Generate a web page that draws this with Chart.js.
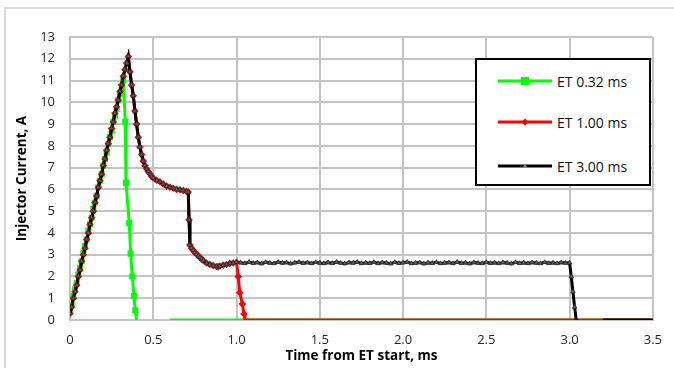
<!DOCTYPE html>
<html>
<head>
<meta charset="utf-8">
<script src="https://cdn.jsdelivr.net/npm/chart.js@4"></script>
<style>
  body { margin: 0; background: #fff; }
  #wrap { position: relative; width: 674px; height: 368px; overflow: hidden; }
  #frame { position: absolute; left: 4px; top: 7px; width: 720px; height: 420px;
           border-left: 2px solid #d9d9d9; border-top: 2px solid #d9d9d9; }
  #myChart { position: absolute; left: 0; top: 0; }
  #legend { position: absolute; left: 475px; top: 58px; width: 172px; height: 124px;
            border: 2px solid #000; background: #fff;
            font-family: 'Open Sans', sans-serif; font-size: 14px; color: #111; }
  .item { position: absolute; left: 21px; height: 20px; display: flex; align-items: center; white-space: nowrap; }
  .item svg { margin-right: 4px; }
</style>
</head>
<body>
<div id="wrap">
  <div id="frame"></div>
  <canvas id="myChart" width="674" height="368"></canvas>
  <div id="legend">
    <div class="item" style="top:11px">
      <svg width="55" height="20"><line x1="0" y1="10" x2="54" y2="10" stroke="#00ff00" stroke-width="3"/><rect x="23" y="6" width="8" height="8" fill="#00ff00"/></svg>
      <span>ET 0.32 ms</span>
    </div>
    <div class="item" style="top:52px">
      <svg width="55" height="20"><line x1="0" y1="10" x2="54" y2="10" stroke="#ff0000" stroke-width="3"/><polygon points="27,6.5 30.5,10 27,13.5 23.5,10" fill="#ff0000"/></svg>
      <span>ET 1.00 ms</span>
    </div>
    <div class="item" style="top:96px">
      <svg width="55" height="20"><line x1="0" y1="10" x2="54" y2="10" stroke="#000" stroke-width="3"/><polygon points="27,7.5 29.5,12 24.5,12" fill="#888"/></svg>
      <span>ET 3.00 ms</span>
    </div>
  </div>
</div>
<script>
// ramp shared by the 1.00 ms and 3.00 ms shots
const tRamp = [0, 0.01, 0.02, 0.03, 0.04, 0.05, 0.06, 0.07, 0.08, 0.09, 0.10, 0.11, 0.12, 0.13, 0.14, 0.15, 0.16, 0.17,
  0.18, 0.19, 0.20, 0.21, 0.22, 0.23, 0.24, 0.25, 0.26, 0.27, 0.28, 0.29, 0.30, 0.31, 0.32, 0.33, 0.34, 0.35];
const iRamp = [0.3, 0.6, 1.0, 1.3, 1.6, 2.0, 2.3, 2.7, 3.0, 3.3, 3.7, 4.0, 4.4, 4.7, 5.0, 5.4, 5.7, 6.1,
  6.4, 6.7, 7.1, 7.4, 7.8, 8.1, 8.4, 8.8, 9.1, 9.5, 9.8, 10.1, 10.5, 10.8, 11.2, 11.5, 11.8, 12.1];

// decay, hold at ~6 A, drop to ~2.5 A
const tDecay = [0.36, 0.37, 0.38, 0.39, 0.40, 0.41, 0.42, 0.43, 0.44, 0.45, 0.46, 0.47, 0.48, 0.49, 0.50,
  0.52, 0.54, 0.56, 0.58, 0.60, 0.62, 0.64, 0.66, 0.68, 0.70, 0.71, 0.715, 0.72,
  0.73, 0.74, 0.75, 0.76, 0.77, 0.78, 0.79, 0.80, 0.82, 0.84, 0.86, 0.88, 0.89, 0.90,
  0.92, 0.94, 0.96, 0.98, 1.00];
const iDecay = [11.4, 10.8, 10.3, 9.6, 9.0, 8.4, 7.95, 7.6, 7.3, 7.1, 6.95, 6.82, 6.72, 6.6, 6.52,
  6.42, 6.35, 6.25, 6.15, 6.1, 6.05, 6.0, 5.98, 5.95, 5.9, 5.88, 4.6, 3.45,
  3.3, 3.2, 3.1, 3.02, 2.95, 2.88, 2.8, 2.73, 2.62, 2.55, 2.5, 2.46, 2.45, 2.48,
  2.52, 2.55, 2.6, 2.62, 2.65];

// ET 1.00 ms switch-off
const tRedOff = [1.01, 1.02, 1.035, 1.045, 1.05, 3.5];
const iRedOff = [2.0, 1.25, 0.73, 0.28, 0, 0];

// ET 3.00 ms hold plateau
const tPlat = [1.025, 1.05, 1.075, 1.1, 1.125, 1.15, 1.175, 1.2, 1.225, 1.25, 1.275, 1.3, 1.325, 1.35, 1.375, 1.4,
  1.425, 1.45, 1.475, 1.5, 1.525, 1.55, 1.575, 1.6, 1.625, 1.65, 1.675, 1.7, 1.725, 1.75, 1.775, 1.8,
  1.825, 1.85, 1.875, 1.9, 1.925, 1.95, 1.975, 2.0, 2.025, 2.05, 2.075, 2.1, 2.125, 2.15, 2.175, 2.2,
  2.225, 2.25, 2.275, 2.3, 2.325, 2.35, 2.375, 2.4, 2.425, 2.45, 2.475, 2.5, 2.525, 2.55, 2.575, 2.6,
  2.625, 2.65, 2.675, 2.7, 2.725, 2.75, 2.775, 2.8, 2.825, 2.85, 2.875, 2.9, 2.925, 2.95, 2.975, 3.0];
const iPlat = [2.63, 2.6, 2.66, 2.61, 2.64, 2.59, 2.65, 2.62, 2.6, 2.66, 2.62, 2.64, 2.59, 2.63, 2.66, 2.61,
  2.64, 2.6, 2.65, 2.62, 2.6, 2.64, 2.61, 2.66, 2.62, 2.59, 2.64, 2.62, 2.66, 2.6, 2.63, 2.61,
  2.65, 2.6, 2.64, 2.62, 2.59, 2.65, 2.61, 2.63, 2.66, 2.6, 2.62, 2.64, 2.59, 2.63, 2.61, 2.65,
  2.6, 2.62, 2.64, 2.6, 2.66, 2.61, 2.63, 2.59, 2.64, 2.62, 2.6, 2.65, 2.61, 2.63, 2.6, 2.64,
  2.62, 2.59, 2.65, 2.61, 2.63, 2.6, 2.64, 2.62, 2.6, 2.65, 2.61, 2.63, 2.6, 2.64, 2.62, 2.63];
const tBlackOff = [3.01, 3.02, 3.03, 3.04, 3.1, 3.2, 3.5];
const iBlackOff = [2.0, 1.3, 0.6, 0, null, 0, 0];

// ET 0.32 ms
const tGreen = [0, 0.01, 0.02, 0.03, 0.04, 0.05, 0.06, 0.07, 0.08, 0.09, 0.10, 0.11, 0.12, 0.13, 0.14, 0.15, 0.16,
  0.17, 0.18, 0.19, 0.20, 0.21, 0.22, 0.23, 0.24, 0.25, 0.26, 0.27, 0.28, 0.29, 0.30, 0.31, 0.32,
  0.332, 0.336, 0.356, 0.364, 0.374, 0.384, 0.392, 0.40, 0.5, 0.6, 3.5];
const iGreen = [0.4, 0.7, 1.1, 1.4, 1.7, 2.1, 2.4, 2.7, 3.1, 3.4, 3.7, 4.1, 4.4, 4.7, 5.1, 5.4, 5.7,
  6.1, 6.4, 6.7, 7.1, 7.4, 7.7, 8.1, 8.4, 8.7, 9.1, 9.4, 9.7, 10.1, 10.4, 10.7, 11.0,
  9.1, 6.3, 4.45, 3.05, 2.0, 1.1, 0.45, 0, null, 0, 0];

const xTicks = [0, 0.5, 1, 1.5, 2, 2.5, 3, 3.5];

function pts(xs, ys) {
  return xs.map((x, i) => ({x: x, y: ys[i]}));
}

const redData = pts(tRamp, iRamp).concat(pts(tDecay, iDecay), pts(tRedOff, iRedOff));
const blackData = pts(tRamp, iRamp).concat(pts(tDecay, iDecay), pts(tPlat, iPlat), pts(tBlackOff, iBlackOff));
const greenData = pts(tGreen, iGreen);

// hide markers that sit on the zero line
const radius = r => ctx => (ctx.raw && ctx.raw.y === 0) ? 0 : r;

const tickFont = {family: 'Open Sans', size: 13};
const titleFont = {family: 'Open Sans', size: 13.5, weight: 'bold', lineHeight: 1};

const config = {
  type: 'line',
  data: {
    datasets: [
      {
        label: 'ET 3.00 ms',
        data: blackData,
        borderColor: '#000',
        backgroundColor: '#666',
        borderWidth: 3,
        pointStyle: 'triangle',
        pointRadius: radius(2.5),
        pointBorderColor: '#333',
        pointBorderWidth: 1,
      },
      {
        label: 'ET 1.00 ms',
        data: redData,
        borderColor: '#ff0000',
        backgroundColor: '#ff0000',
        borderWidth: 3,
        pointStyle: 'rectRot',
        pointRadius: radius(3.8),
        pointBorderWidth: 0,
      },
      {
        label: 'ET 0.32 ms',
        data: greenData,
        borderColor: '#00ff00',
        backgroundColor: '#00ff00',
        borderWidth: 3,
        pointStyle: 'rect',
        pointRadius: radius(4.3),
        pointBorderWidth: 0,
      },
    ]
  },
  options: {
    responsive: false,
    animation: false,
    devicePixelRatio: 1,
    layout: {padding: {left: 0, right: 21, top: 37, bottom: 0}},
    plugins: {legend: {display: false}, tooltip: {enabled: false}},
    elements: {line: {tension: 0}},
    scales: {
      x: {
        type: 'linear',
        min: 0,
        max: 3.5,
        afterFit: s => { s.height = 48; },
        afterBuildTicks: s => { s.ticks = xTicks.map(v => ({value: v})); },
        ticks: {font: tickFont, color: '#262626', padding: 12, maxRotation: 0},
        grid: {color: '#c4c4c4', lineWidth: 2, drawTicks: false},
        border: {color: '#c4c4c4', width: 2},
        title: {display: true, text: 'Time from ET start, ms', font: titleFont, color: '#000', padding: {top: 0, bottom: 5}},
      },
      y: {
        min: 0,
        max: 13,
        afterFit: s => { s.width = 70; },
        ticks: {stepSize: 1, font: tickFont, color: '#262626', padding: 15},
        grid: {color: '#c4c4c4', lineWidth: 2, drawTicks: false},
        border: {color: '#c4c4c4', width: 2},
        title: {display: true, text: 'Injector Current, A', font: titleFont, color: '#000', padding: {top: 15, bottom: 0}},
      }
    }
  }
};

const myChart = new Chart(document.getElementById('myChart').getContext('2d'), config);
</script>
</body>
</html>
